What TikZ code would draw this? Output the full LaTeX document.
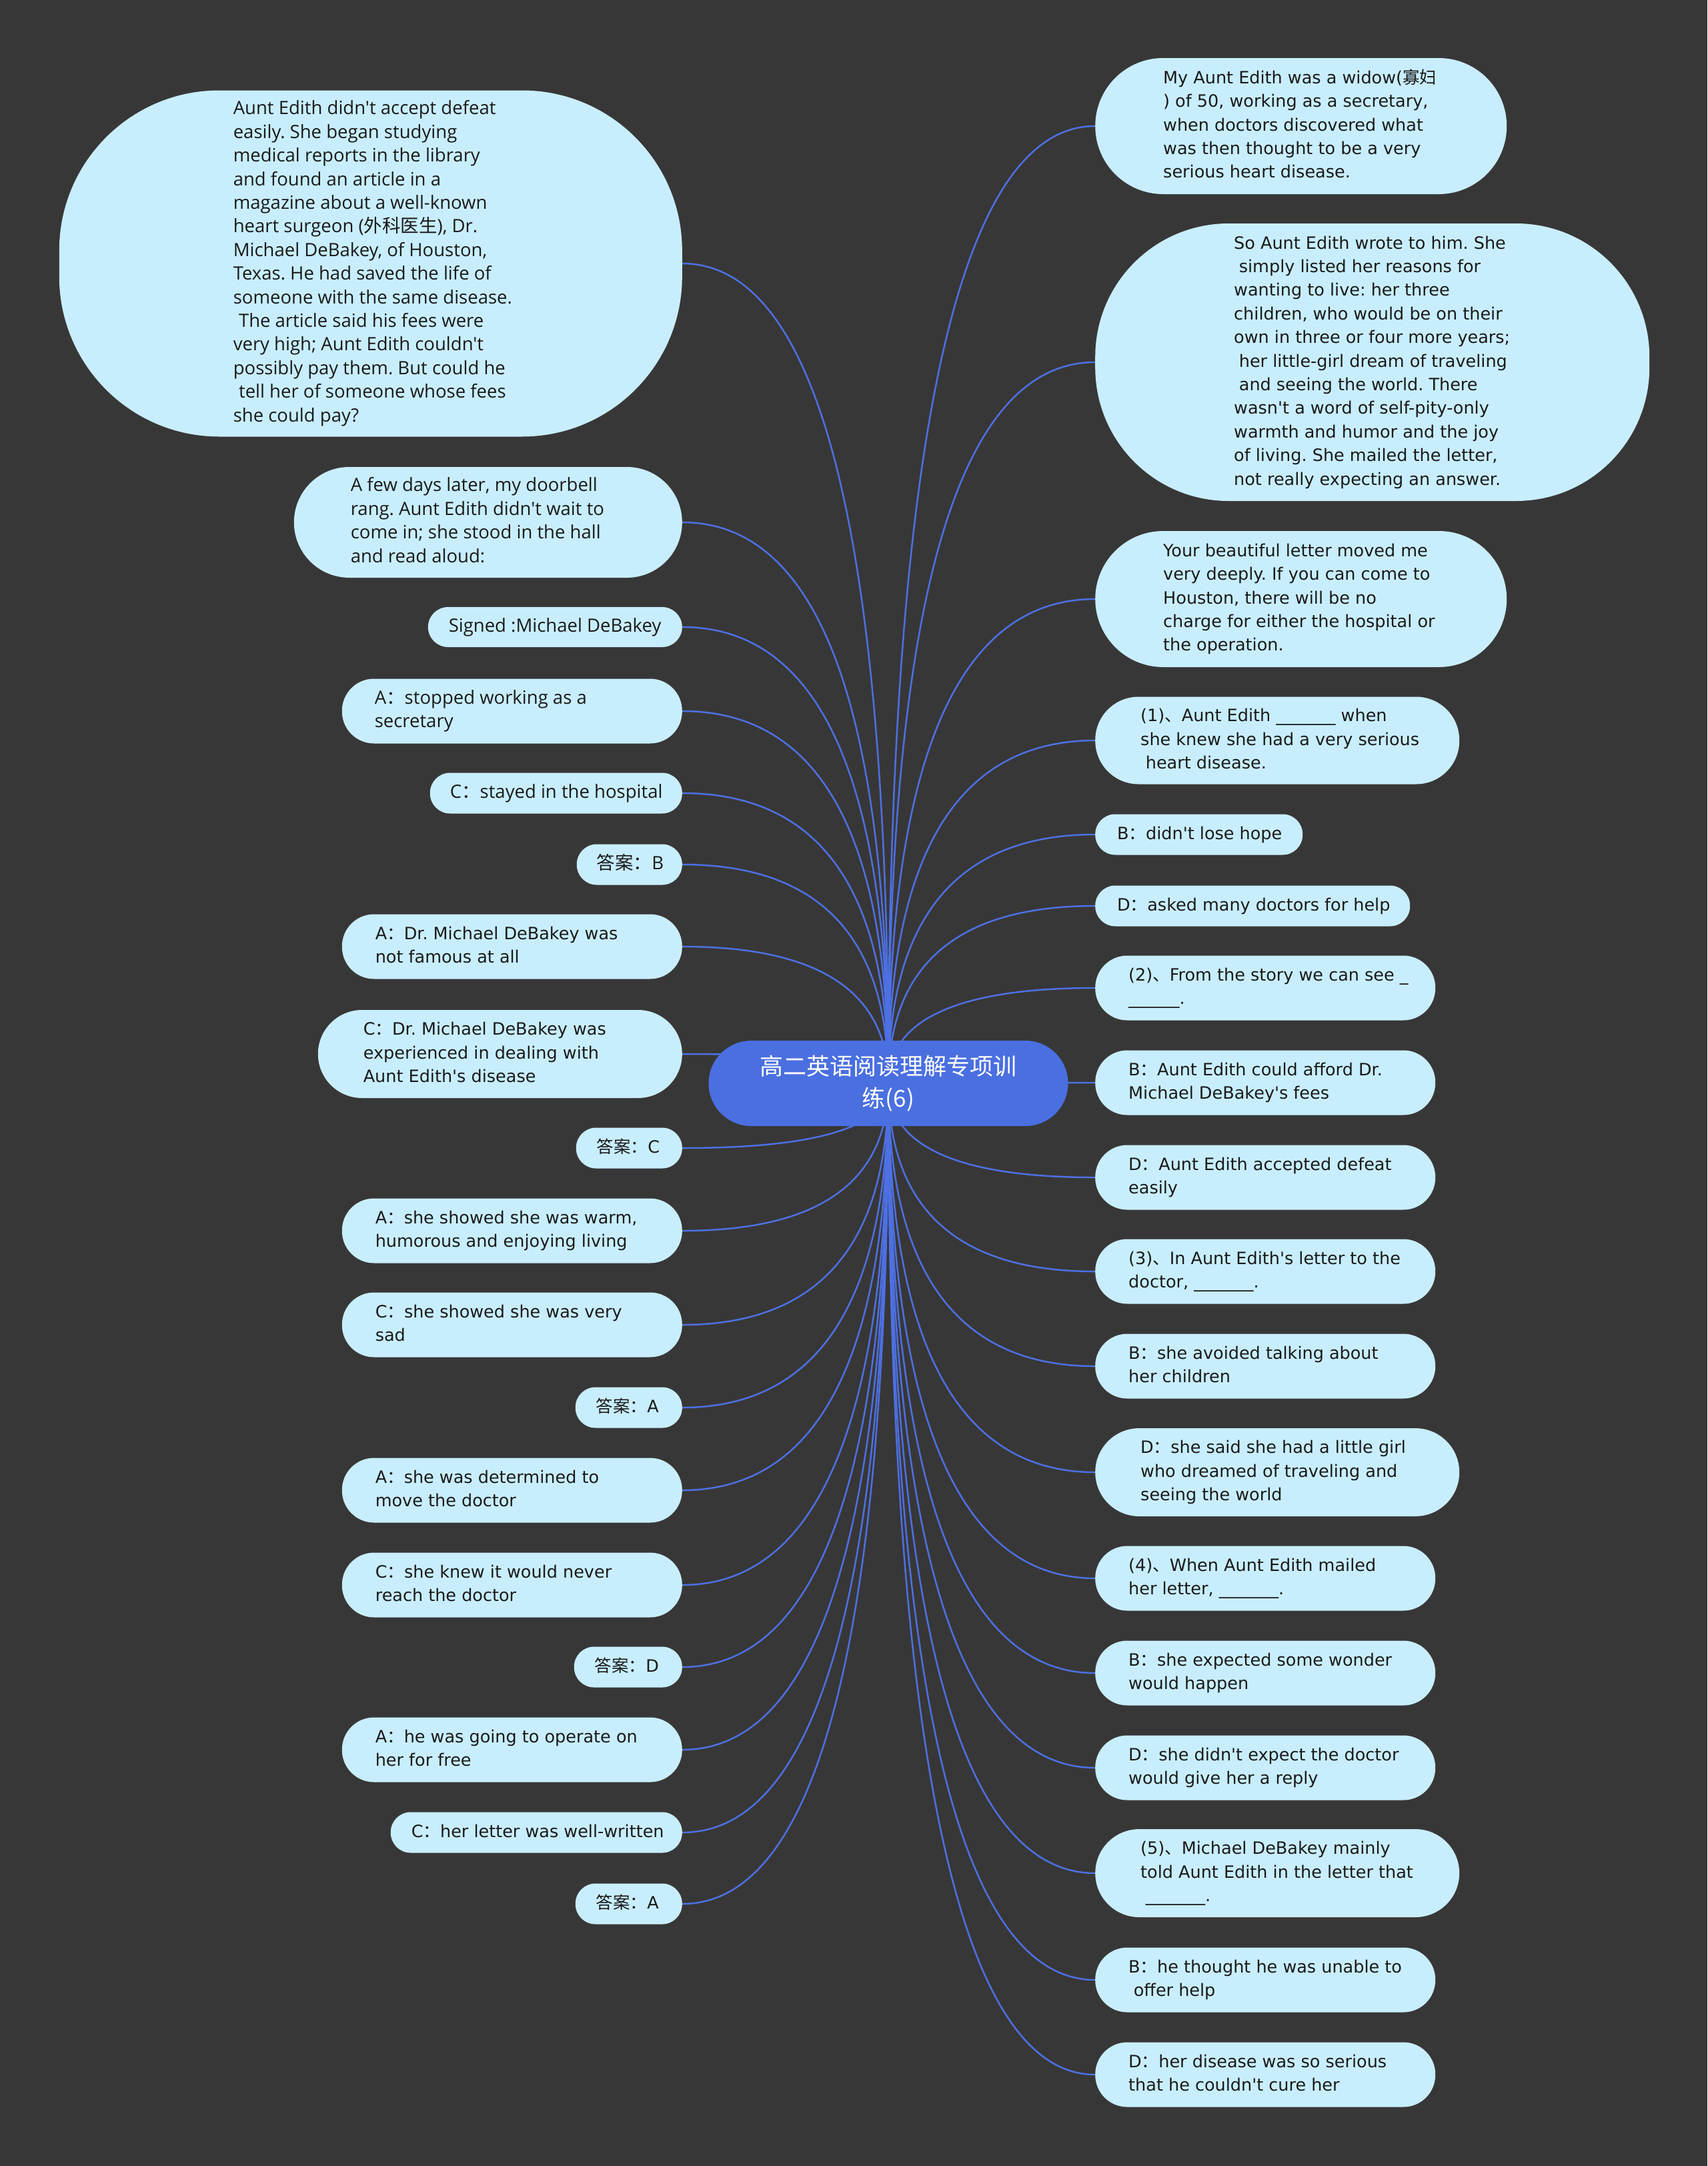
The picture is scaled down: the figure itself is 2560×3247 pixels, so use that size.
\documentclass[tikz,border=0pt]{standalone}
\usepackage{fontspec}
\newfontfamily\vfont{DejaVu Sans}[Ligatures=TeXOff]
\newfontfamily\nfont{Open Sans}[Ligatures=TeXOff]
\newfontfamily\cjk{Noto Sans CJK SC}
\usetikzlibrary{calc}
\frenchspacing
\definecolor{bgc}{HTML}{383737}
\definecolor{nodec}{HTML}{C8EEFD}
\definecolor{mainc}{HTML}{4A6FE0}
\definecolor{linec}{HTML}{4D70E2}
\definecolor{txtc}{HTML}{1A1A1A}
\newcommand\cj[1]{{\cjk #1}}
\newcommand\lsp{\hspace*{0.3em}}
\newcommand\bt[3]{\makebox[#1pt][l]{\hspace*{#2pt}\raisebox{-2pt}{\begin{tabular}{@{}l@{}}#3\end{tabular}}}}
\pgfdeclarelayer{bg}\pgfdeclarelayer{edges}\pgfsetlayers{bg,edges,main}
\begin{document}
\begin{tikzpicture}[x=1pt,y=-1pt,
  bub/.style={rectangle, fill=nodec, text=txtc, inner sep=0pt},
  vf/.style={font=\vfont\fontsize{25.5pt}{35.4pt}\selectfont},
  nf/.style={font=\nfont\fontsize{27.5pt}{35.4pt}\selectfont},
  lft/.style={anchor=east},
  rgt/.style={anchor=west},
  conn/.style={draw=linec, line width=2.5pt},
  mainbox/.style={rectangle, fill=mainc, text=white, rounded corners=64pt, minimum width=539pt, minimum height=128pt, align=center, inner sep=0pt, font=\cjk\fontsize{35pt}{48pt}\selectfont}]
\useasboundingbox (0,0) rectangle (2560,3247);
\begin{pgfonlayer}{bg}
\fill[bgc] (0,0) rectangle (2560,3247);
\end{pgfonlayer}

\node[mainbox] (C) at (1332,1624) {高二英语阅读理解专项训\\练(6)};

% left side
\node[bub,nf,lft,minimum height=519pt,rounded corners=240pt] (L1) at (1023,395) {\bt{934}{261}{Aunt Edith didn't accept defeat\\easily. She began studying\\medical reports in the library\\and found an article in a\\magazine about a well-known\\heart surgeon (\cj{外科医生}), Dr.\\Michael DeBakey, of Houston,\\Texas. He had saved the life of\\someone with the same disease.\\\lsp The article said his fees were\\very high; Aunt Edith couldn't\\possibly pay them. But could he\\\lsp tell her of someone whose fees\\she could pay?}};
\node[bub,nf,lft,minimum height=166pt,rounded corners=83pt] (L2) at (1023,783) {\bt{582}{85}{A few days later, my doorbell\\rang. Aunt Edith didn't wait to\\come in; she stood in the hall\\and read aloud:}};
\node[bub,nf,lft,minimum height=60pt,rounded corners=30pt] (L3) at (1023,940) {\bt{381}{31}{Signed :Michael DeBakey}};
\node[bub,nf,lft,minimum height=97pt,rounded corners=48pt] (L4) at (1023,1066) {\bt{510}{49}{A\cj{：}stopped working as a\\secretary}};
\node[bub,nf,lft,minimum height=61pt,rounded corners=30pt] (L5) at (1023,1189) {\bt{378}{30}{C\cj{：}stayed in the hospital}};
\node[bub,nf,lft,minimum height=61pt,rounded corners=30pt] (L6) at (1023,1296) {\bt{158}{30}{\cj{答案：}B}};
\node[bub,vf,lft,minimum height=97pt,rounded corners=48pt] (L7) at (1023,1419) {\bt{510}{50}{A\cj{：}Dr. Michael DeBakey was\\not famous at all}};
\node[bub,vf,lft,minimum height=132pt,rounded corners=66pt] (L8) at (1023,1580) {\bt{546}{68}{C\cj{：}Dr. Michael DeBakey was\\experienced in dealing with\\Aunt Edith's disease}};
\node[bub,vf,lft,minimum height=61pt,rounded corners=30pt] (L9) at (1023,1721) {\bt{159}{31}{\cj{答案：}C}};
\node[bub,vf,lft,minimum height=97pt,rounded corners=48pt] (L10) at (1023,1845) {\bt{510}{50}{A\cj{：}she showed she was warm,\\humorous and enjoying living}};
\node[bub,vf,lft,minimum height=97pt,rounded corners=48pt] (L11) at (1023,1986) {\bt{510}{50}{C\cj{：}she showed she was very\\sad}};
\node[bub,vf,lft,minimum height=61pt,rounded corners=30pt] (L12) at (1023,2110) {\bt{160}{31}{\cj{答案：}A}};
\node[bub,vf,lft,minimum height=97pt,rounded corners=48pt] (L13) at (1023,2234) {\bt{510}{50}{A\cj{：}she was determined to\\move the doctor}};
\node[bub,vf,lft,minimum height=97pt,rounded corners=48pt] (L14) at (1023,2376) {\bt{510}{50}{C\cj{：}she knew it would never\\reach the doctor}};
\node[bub,vf,lft,minimum height=61pt,rounded corners=30pt] (L15) at (1023,2499) {\bt{162}{31}{\cj{答案：}D}};
\node[bub,vf,lft,minimum height=97pt,rounded corners=48pt] (L16) at (1023,2623) {\bt{510}{50}{A\cj{：}he was going to operate on\\her for free}};
\node[bub,vf,lft,minimum height=61pt,rounded corners=30pt] (L17) at (1023,2747) {\bt{437}{31}{C\cj{：}her letter was well-written}};
\node[bub,vf,lft,minimum height=61pt,rounded corners=30pt] (L18) at (1023,2854) {\bt{160}{31}{\cj{答案：}A}};

% right side
\node[bub,vf,rgt,minimum height=204pt,rounded corners=102pt] (R1) at (1642,189) {\bt{617}{102}{My Aunt Edith was a widow(\cj{寡妇}\\) of 50, working as a secretary,\\when doctors discovered what\\was then thought to be a very\\serious heart disease.}};
\node[bub,vf,rgt,minimum height=416pt,rounded corners=200pt] (R2) at (1642,543) {\bt{831}{208}{So Aunt Edith wrote to him. She\\\lsp simply listed her reasons for\\wanting to live: her three\\children, who would be on their\\own in three or four more years;\\\lsp her little-girl dream of traveling\\\lsp and seeing the world. There\\wasn't a word of self-pity-only\\warmth and humor and the joy\\of living. She mailed the letter,\\not really expecting an answer.}};
\node[bub,vf,rgt,minimum height=204pt,rounded corners=102pt] (R3) at (1642,898) {\bt{617}{102}{Your beautiful letter moved me\\very deeply. If you can come to\\Houston, there will be no\\charge for either the hospital or\\the operation.}};
\node[bub,vf,rgt,minimum height=131pt,rounded corners=65pt] (R4) at (1642,1110) {\bt{546}{68}{(1)\cj{、}Aunt Edith \_\_\_\_\_\_\_ when\\she knew she had a very serious\\\lsp heart disease.}};
\node[bub,vf,rgt,minimum height=61pt,rounded corners=30pt] (R5) at (1642,1251) {\bt{311}{33}{B\cj{：}didn't lose hope}};
\node[bub,vf,rgt,minimum height=61pt,rounded corners=30pt] (R6) at (1642,1358) {\bt{472}{33}{D\cj{：}asked many doctors for help}};
\node[bub,vf,rgt,minimum height=97pt,rounded corners=48pt] (R7) at (1642,1481) {\bt{510}{50}{(2)\cj{、}From the story we can see \_\\\_\_\_\_\_\_.}};
\node[bub,vf,rgt,minimum height=97pt,rounded corners=48pt] (R8) at (1642,1623) {\bt{510}{50}{B\cj{：}Aunt Edith could afford Dr.\\Michael DeBakey's fees}};
\node[bub,vf,rgt,minimum height=97pt,rounded corners=48pt] (R9) at (1642,1765) {\bt{510}{50}{D\cj{：}Aunt Edith accepted defeat\\easily}};
\node[bub,vf,rgt,minimum height=97pt,rounded corners=48pt] (R10) at (1642,1906) {\bt{510}{50}{(3)\cj{、}In Aunt Edith's letter to the\\doctor, \_\_\_\_\_\_\_.}};
\node[bub,vf,rgt,minimum height=97pt,rounded corners=48pt] (R11) at (1642,2048) {\bt{510}{50}{B\cj{：}she avoided talking about\\her children}};
\node[bub,vf,rgt,minimum height=132pt,rounded corners=66pt] (R12) at (1642,2207) {\bt{546}{68}{D\cj{：}she said she had a little girl\\who dreamed of traveling and\\seeing the world}};
\node[bub,vf,rgt,minimum height=97pt,rounded corners=48pt] (R13) at (1642,2366) {\bt{510}{50}{(4)\cj{、}When Aunt Edith mailed\\her letter, \_\_\_\_\_\_\_.}};
\node[bub,vf,rgt,minimum height=97pt,rounded corners=48pt] (R14) at (1642,2508) {\bt{510}{50}{B\cj{：}she expected some wonder\\would happen}};
\node[bub,vf,rgt,minimum height=97pt,rounded corners=48pt] (R15) at (1642,2650) {\bt{510}{50}{D\cj{：}she didn't expect the doctor\\would give her a reply}};
\node[bub,vf,rgt,minimum height=132pt,rounded corners=66pt] (R16) at (1642,2808) {\bt{546}{68}{(5)\cj{、}Michael DeBakey mainly\\told Aunt Edith in the letter that\\\lsp\_\_\_\_\_\_\_.}};
\node[bub,vf,rgt,minimum height=97pt,rounded corners=48pt] (R17) at (1642,2968) {\bt{510}{50}{B\cj{：}he thought he was unable to\\\lsp offer help}};
\node[bub,vf,rgt,minimum height=97pt,rounded corners=48pt] (R18) at (1642,3110) {\bt{510}{50}{D\cj{：}her disease was so serious\\that he couldn't cure her}};

\begin{pgfonlayer}{edges}
\foreach \i in {1,...,18} {
  \draw[conn] (C.center) .. controls ($(C.center)!0.6667!(C.center|-L\i.east)$) and ($(L\i.east)!0.6667!(C.center|-L\i.east)$) .. (L\i.east);
  \draw[conn] (C.center) .. controls ($(C.center)!0.6667!(C.center|-R\i.west)$) and ($(R\i.west)!0.6667!(C.center|-R\i.west)$) .. (R\i.west);
}
\end{pgfonlayer}
\end{tikzpicture}
\end{document}
